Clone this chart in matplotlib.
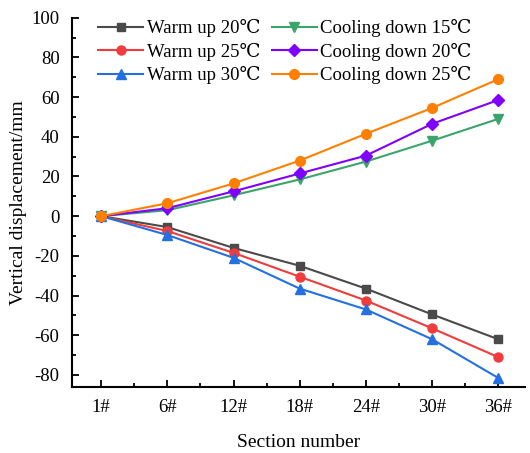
import matplotlib.pyplot as plt
from matplotlib.ticker import MultipleLocator, AutoMinorLocator

plt.rcParams['font.family'] = ['Liberation Serif', 'DejaVu Serif']
plt.rcParams['axes.unicode_minus'] = False

sections = ['1#', '6#', '12#', '18#', '24#', '30#', '36#']
warm20 = [0, -5.5, -16, -25, -36.5, -49.5, -62]
warm25 = [0, -7.5, -18.5, -30.5, -42.5, -56.5, -71]
warm30 = [0, -9.5, -21, -36.5, -47, -62, -81.5]
cool15 = [0, 3, 10.5, 18.5, 27.5, 38, 49]
cool20 = [0, 4, 12.5, 21.5, 30.5, 46.5, 58.5]
cool25 = [0, 6.5, 16.5, 28, 41.5, 54.5, 69]

fig = plt.figure(figsize=(5.3, 4.53), dpi=100)
ax = fig.add_axes([0.136, 0.146, 0.854, 0.815])
x = range(len(sections))

ax.plot(x, warm20, color='#4a4a4a', marker='s', ms=6, lw=1.5, label='Warm up 20℃')
ax.plot(x, warm25, color='#f03c3c', marker='o', ms=6.5, lw=1.5, label='Warm up 25℃')
ax.plot(x, warm30, color='#2470e0', marker='^', ms=7, lw=1.5, label='Warm up 30℃')
ax.plot(x, cool15, color='#3aa46a', marker='v', ms=7, lw=1.5, label='Cooling down 15℃')
ax.plot(x, cool20, color='#8000ff', marker='D', ms=6, lw=1.5, label='Cooling down 20℃')
ax.plot(x, cool25, color='#ff8000', marker='o', ms=7, lw=1.5, label='Cooling down 25℃')

ax.set_xlim(-0.44, 6.4)
ax.set_ylim(-86, 100)
ax.set_xticks(list(x))
ax.set_xticklabels(sections)
ax.xaxis.set_minor_locator(MultipleLocator(0.5))
ax.yaxis.set_major_locator(MultipleLocator(20))
ax.yaxis.set_minor_locator(AutoMinorLocator(2))
ax.tick_params(which='both', direction='in', labelsize=13.5, width=1.3)
ax.tick_params(which='major', length=5)
ax.tick_params(which='minor', length=3)
ax.tick_params(axis='x', pad=9)
ax.tick_params(axis='y', pad=9)
for s in ['top', 'right']:
    ax.spines[s].set_visible(False)
for s in ['left', 'bottom']:
    ax.spines[s].set_linewidth(1.5)

ax.set_xlabel('Section number', fontsize=14, labelpad=13)
ax.set_ylabel('Vertical displacement/mm', fontsize=14, labelpad=3)
ax.legend(loc='upper left', ncol=2, frameon=False, fontsize=13.5,
          bbox_to_anchor=(0.02, 1.042), handlelength=2.4, columnspacing=0.6,
          labelspacing=0.3, handletextpad=0.2)

fig.savefig('out.png')
